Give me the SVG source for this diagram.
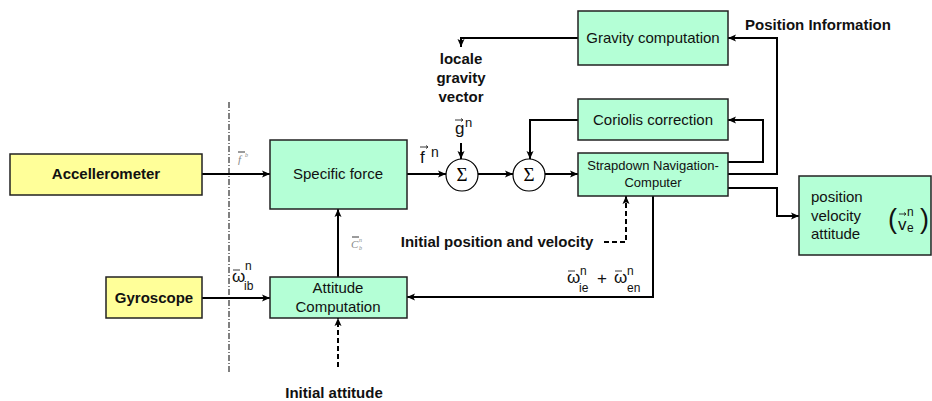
<svg xmlns="http://www.w3.org/2000/svg" width="932" height="401" viewBox="0 0 932 401">
<defs>
<marker id="ah" markerUnits="userSpaceOnUse" markerWidth="9" markerHeight="8" refX="8" refY="4" orient="auto">
<path d="M0,0.5 L8,4 L0,7.5 L1.8,4 z" fill="#000"/>
</marker>
</defs>
<style>
.box{stroke:#222;stroke-width:1.5}
.y{fill:#FFFF99}
.g{fill:#B4FFD6}
.t{font-family:"Liberation Sans",Arial,sans-serif;font-size:15px;fill:#111;text-anchor:middle}
.b{font-weight:bold}
.s{font-size:13px}
.ln{fill:none;stroke:#000;stroke-width:2}
.arr{marker-end:url(#ah)}
.dash{stroke-dasharray:5,3}
.sum{fill:#fff;stroke:#000;stroke-width:1.2}
.sig{font-family:"Liberation Serif","Times New Roman",serif;font-size:19px;text-anchor:middle;fill:#000}
.m{font-family:"Liberation Sans",Arial,sans-serif;fill:#111}
.vec{fill:none;stroke:#222;stroke-width:0.9}
.gr{font-family:"Liberation Serif","Times New Roman",serif;font-style:italic;fill:#888}
</style>

<line x1="229" y1="102" x2="229" y2="374" stroke="#000" stroke-width="1" stroke-dasharray="6,2,1,2"/>

<g id="connectors">
<path class="ln arr" d="M202,174 H270"/>
<path class="ln arr" d="M202,298 H270"/>
<path class="ln arr" d="M338,277 V209"/>
<path class="ln arr" d="M407,174 H446"/>
<path class="ln arr" d="M478,174 H513"/>
<path class="ln arr" d="M545,174 H578"/>
<path class="ln arr" d="M461,143 V159"/>
<path class="ln arr" d="M578,38 H461 V47"/>
<path class="ln arr" d="M578,120 H530 V159"/>
<path class="ln arr" d="M728,162 H763 V120 H728"/>
<path class="ln arr" d="M728,174 H777 V38 H728"/>
<path class="ln arr" d="M728,188 H777 V216 H799"/>
<path class="ln arr" d="M653,196 V297 H407"/>
<path class="ln arr dash" d="M604,242 H626 V196"/>
<path class="ln arr dash" d="M338,367 V318"/>
</g>

<g id="accelerometer">
<rect class="box y" x="10" y="154" width="192" height="41"/>
<text class="t b" x="106" y="179">Accellerometer</text>
</g>

<g id="gyroscope">
<rect class="box y" x="106" y="277" width="96" height="41"/>
<text class="t b" x="154" y="303">Gyroscope</text>
</g>

<g id="specific-force">
<rect class="box g" x="270" y="140" width="137" height="69"/>
<text class="t" x="338" y="179">Specific force</text>
</g>

<g id="attitude">
<rect class="box g" x="270" y="277" width="137" height="41"/>
<text class="t" x="338" y="293">Attitude</text>
<text class="t" x="338" y="312">Computation</text>
</g>

<g id="sum1">
<circle class="sum" cx="462" cy="175" r="16"/>
<text class="sig" x="462" y="181">Σ</text>
</g>

<g id="sum2">
<circle class="sum" cx="529" cy="175" r="16"/>
<text class="sig" x="529" y="181">Σ</text>
</g>

<g id="gravity">
<rect class="box g" x="578" y="11" width="150" height="54"/>
<text class="t" x="653" y="43">Gravity computation</text>
</g>

<g id="coriolis">
<rect class="box g" x="578" y="99" width="150" height="41"/>
<text class="t" x="653" y="125">Coriolis correction</text>
</g>

<g id="strapdown">
<rect class="box g" x="578" y="153" width="150" height="43"/>
<text class="t s" x="653" y="170">Strapdown Navigation-</text>
<text class="t s" x="653" y="187">Computer</text>
</g>

<g id="output">
<rect class="box g" x="799" y="176" width="132" height="79"/>
<text class="m" x="811" y="202" font-size="15">position</text>
<text class="m" x="811" y="221" font-size="15">velocity</text>
<text class="m" x="811" y="239" font-size="15">attitude</text>
<text class="m" x="888" y="228" font-size="27" font-weight="300">(</text>
<text class="m" x="898" y="230" font-size="17">v</text>
<path class="vec" d="M899,214 H906 M904,212.5 L906,214 L904,215.5"/>
<text class="m" x="907" y="216" font-size="12">n</text>
<text class="m" x="907" y="232" font-size="12">e</text>
<text class="m" x="920" y="228" font-size="27" font-weight="300">)</text>
</g>

<g id="labels">
<text class="t b" x="461" y="64">locale</text>
<text class="t b" x="461" y="83">gravity</text>
<text class="t b" x="461" y="102">vector</text>
<text class="t b" x="818" y="30">Position Information</text>
<text class="t b" x="497" y="247">Initial position and velocity</text>
<text class="t b" x="334" y="398">Initial attitude</text>

<text class="m" x="455" y="134" font-size="17">g</text>
<path class="vec" d="M455,120 H463 M461,118.5 L463,120 L461,121.5"/>
<text class="m" x="465" y="127" font-size="13">n</text>

<text class="m" x="420" y="163" font-size="17">f</text>
<path class="vec" d="M420,147 H428 M426,145.5 L428,147 L426,148.5"/>
<text class="m" x="431" y="157" font-size="14">n</text>

<text class="gr" x="238" y="163" font-size="11">f</text>
<path class="vec" d="M238,152 H245" stroke="#999"/>
<text class="gr" x="245" y="157" font-size="6">b</text>

<text class="gr" x="351" y="248" font-size="11">C</text>
<path class="vec" d="M352,237 H359" stroke="#999"/>
<text class="gr" x="359" y="242" font-size="6">n</text>
<text class="gr" x="359" y="250" font-size="6">b</text>

<text class="m" x="232" y="282" font-size="17">ω</text>
<path class="vec" d="M233,270 H240"/>
<text class="m" x="245" y="270" font-size="12">n</text>
<text class="m" x="244" y="290" font-size="12">ib</text>

<text class="m" x="567" y="283" font-size="17">ω</text>
<path class="vec" d="M568,271 H575"/>
<text class="m" x="580" y="275" font-size="12">n</text>
<text class="m" x="579" y="292" font-size="12">ie</text>
<text class="m" x="597" y="284" font-size="17">+</text>
<text class="m" x="614" y="283" font-size="17">ω</text>
<path class="vec" d="M615,271 H622"/>
<text class="m" x="627" y="275" font-size="12">n</text>
<text class="m" x="627" y="292" font-size="12">en</text>
</g>
</svg>
